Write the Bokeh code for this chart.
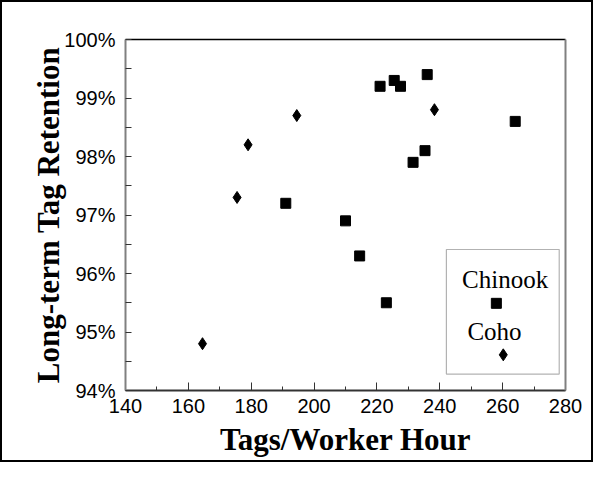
from bokeh.plotting import figure
from bokeh.models import LinearAxis, BoxAnnotation, FixedTicker
from bokeh.core.properties import value
from bokeh.embed import file_html
from bokeh.resources import INLINE

# Data
chinook_x = [221, 225.5, 227.5, 236, 231.5, 235.3, 264, 191, 210, 214.5, 223]
chinook_y = [99.2, 99.3, 99.2, 99.4, 97.9, 98.1, 98.6, 97.2, 96.9, 96.3, 95.5]
coho_x = [164.5, 175.5, 179, 194.5, 238.3]
coho_y = [94.8, 97.3, 98.2, 98.7, 98.8]

x_ticks = [140, 160, 180, 200, 220, 240, 260, 280]
y_ticks = [94, 95, 96, 97, 98, 99, 100]
y_tick_labels = ["94%", "95%", "96%", "97%", "98%", "99%", "100%"]
legend_labels = ["Chinook", "Coho"]

p = figure(width=593, height=462, x_range=(140, 280), y_range=(94, 100),
           output_backend="svg", toolbar_location=None,
           min_border_left=123, min_border_right=30, min_border_top=37, min_border_bottom=74)
p.styles = {"border": "2px solid black"}
p.grid.visible = False
p.outline_line_color = None
p.background_fill_color = "white"
p.border_fill_color = "white"

p.scatter(chinook_x, chinook_y, marker="square", size=10, color="black")
p.scatter(coho_x, coho_y, marker="diamond", size=12, color="black")

title_font = value("Liberation Serif")

xa = p.xaxis[0]
xa.ticker = FixedTicker(ticks=x_ticks, minor_ticks=list(range(140, 281, 10)))
xa.axis_label = "Tags/Worker Hour"
xa.axis_label_text_font = "Liberation Serif"
xa.axis_label_text_font_style = "bold"
xa.axis_label_text_font_size = "31px"
xa.axis_label_text_color = "black"
xa.axis_label_standoff = 6
xa.major_label_text_font = "Liberation Sans"
xa.major_label_text_font_size = "20px"
xa.major_label_text_color = "black"
xa.major_label_standoff = 8
xa.axis_line_color = "#333333"
xa.axis_line_width = 2
xa.major_tick_in = 8
xa.major_tick_out = 0
xa.minor_tick_in = 4
xa.minor_tick_out = 0
xa.major_tick_line_color = "#333333"
xa.minor_tick_line_color = "#333333"

ya = p.yaxis[0]
ya.ticker = FixedTicker(ticks=y_ticks, minor_ticks=[94.5, 95.5, 96.5, 97.5, 98.5, 99.5])
ya.major_label_overrides = {t: l for t, l in zip(y_ticks, y_tick_labels)}
ya.axis_label = "Long-term Tag Retention"
ya.axis_label_text_font = "Liberation Serif"
ya.axis_label_text_font_style = "bold"
ya.axis_label_text_font_size = "31px"
ya.axis_label_text_color = "black"
ya.axis_label_standoff = -5
ya.major_label_text_font = "Liberation Sans"
ya.major_label_text_font_size = "20px"
ya.major_label_text_color = "black"
ya.major_label_standoff = 10
ya.axis_line_color = "#808080"
ya.axis_line_width = 2
ya.major_tick_in = 6
ya.major_tick_out = 0
ya.minor_tick_in = 6
ya.minor_tick_out = 0
ya.major_tick_line_color = "#333333"
ya.minor_tick_line_color = "#333333"

# frame: top and right
top = LinearAxis(ticker=FixedTicker(ticks=[]), major_label_text_font_size="0px",
                 axis_line_color="black", axis_line_width=1.5,
                 major_tick_line_color=None, minor_tick_line_color=None)
right = LinearAxis(ticker=FixedTicker(ticks=[]), major_label_text_font_size="0px",
                   axis_line_color="#808080", axis_line_width=2,
                   major_tick_line_color=None, minor_tick_line_color=None)
p.add_layout(top, "above")
p.add_layout(right, "right")

# legend box (manual: labels above markers)
p.add_layout(BoxAnnotation(left=242.1, right=278, top=96.41, bottom=94.28,
                           fill_color=None, line_color="black", line_width=1.2))
p.text(x=[260.8, 257.4], y=[95.90, 95.01], text=legend_labels,
       text_font=title_font, text_font_size="25px", text_align="center",
       text_baseline="middle", text_color="black")
p.scatter([258.0], [95.49], marker="square", size=10, color="black")
p.scatter([260.2], [94.61], marker="diamond", size=12, color="black")

open("out.html", "w").write(file_html(p, INLINE))
